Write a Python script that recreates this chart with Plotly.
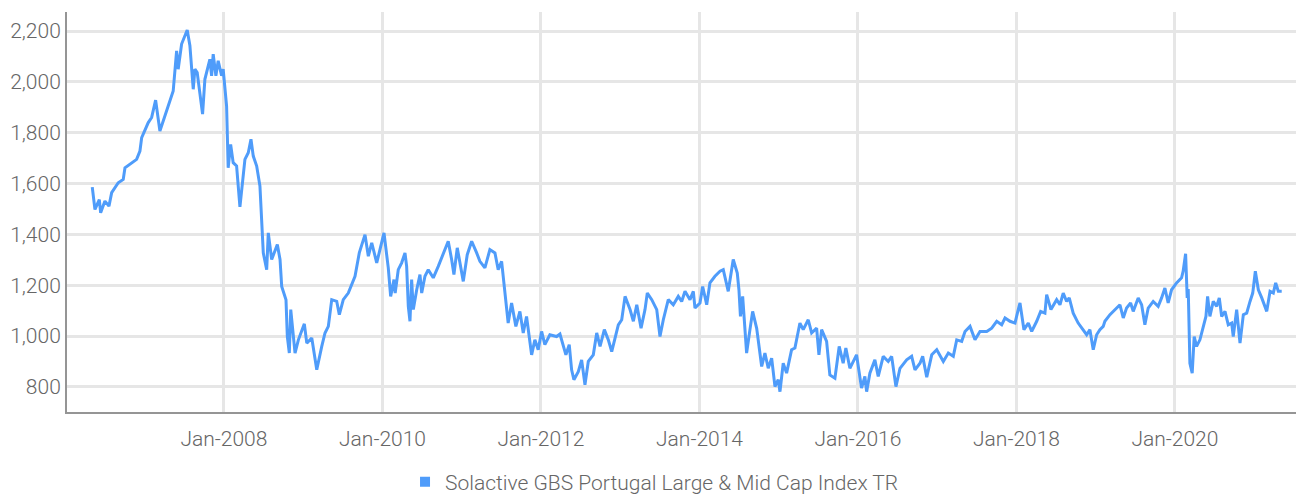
import datetime as dt
import plotly.graph_objects as go

# Decimal-year dates and index levels
years = [
    2006.338, 2006.372, 2006.427, 2006.444, 2006.498, 2006.549, 2006.583, 2006.666, 2006.729, 2006.751,
    2006.898, 2006.940, 2006.962, 2007.045, 2007.088, 2007.138, 2007.192, 2007.256, 2007.319, 2007.360,
    2007.403, 2007.423, 2007.466, 2007.537, 2007.571, 2007.613, 2007.634, 2007.663, 2007.731, 2007.760,
    2007.823, 2007.845, 2007.865, 2007.899, 2007.928, 2007.971, 2007.991, 2008.034, 2008.054, 2008.085,
    2008.117, 2008.160, 2008.202, 2008.236, 2008.265, 2008.307, 2008.341, 2008.370, 2008.413, 2008.454,
    2008.496, 2008.539, 2008.559, 2008.602, 2008.673, 2008.707, 2008.728, 2008.782, 2008.799, 2008.824,
    2008.842, 2008.896, 2008.938, 2009.013, 2009.044, 2009.107, 2009.170, 2009.233, 2009.274, 2009.316,
    2009.359, 2009.422, 2009.455, 2009.505, 2009.568, 2009.653, 2009.707, 2009.779, 2009.821, 2009.864,
    2009.927, 2009.968, 2010.019, 2010.073, 2010.103, 2010.145, 2010.160, 2010.199, 2010.242, 2010.284,
    2010.305, 2010.326, 2010.347, 2010.368, 2010.389, 2010.432, 2010.473, 2010.495, 2010.536, 2010.578,
    2010.641, 2010.704, 2010.767, 2010.830, 2010.873, 2010.902, 2010.944, 2010.978, 2011.020, 2011.070,
    2011.126, 2011.189, 2011.230, 2011.293, 2011.356, 2011.420, 2011.461, 2011.504, 2011.546, 2011.587,
    2011.630, 2011.684, 2011.735, 2011.777, 2011.819, 2011.883, 2011.924, 2011.966, 2012.009, 2012.050,
    2012.113, 2012.198, 2012.240, 2012.281, 2012.315, 2012.357, 2012.387, 2012.416, 2012.471, 2012.513,
    2012.555, 2012.597, 2012.660, 2012.703, 2012.745, 2012.799, 2012.849, 2012.892, 2012.934, 2012.975,
    2013.018, 2013.060, 2013.123, 2013.165, 2013.208, 2013.262, 2013.312, 2013.341, 2013.397, 2013.460,
    2013.501, 2013.543, 2013.606, 2013.669, 2013.732, 2013.775, 2013.817, 2013.880, 2013.922, 2013.943,
    2014.006, 2014.040, 2014.091, 2014.132, 2014.195, 2014.259, 2014.300, 2014.363, 2014.426, 2014.477,
    2014.498, 2014.517, 2014.545, 2014.595, 2014.637, 2014.671, 2014.722, 2014.785, 2014.826, 2014.868,
    2014.911, 2014.953, 2014.994, 2015.016, 2015.057, 2015.100, 2015.163, 2015.205, 2015.268, 2015.310,
    2015.373, 2015.416, 2015.479, 2015.508, 2015.542, 2015.605, 2015.646, 2015.710, 2015.764, 2015.814,
    2015.848, 2015.899, 2015.983, 2016.046, 2016.088, 2016.110, 2016.151, 2016.214, 2016.256, 2016.319,
    2016.382, 2016.425, 2016.479, 2016.530, 2016.614, 2016.677, 2016.719, 2016.782, 2016.816, 2016.867,
    2016.930, 2016.993, 2017.076, 2017.139, 2017.202, 2017.245, 2017.308, 2017.350, 2017.413, 2017.476,
    2017.539, 2017.624, 2017.687, 2017.750, 2017.813, 2017.855, 2017.918, 2017.981, 2018.022, 2018.044,
    2018.094, 2018.149, 2018.192, 2018.255, 2018.305, 2018.359, 2018.381, 2018.435, 2018.507, 2018.549,
    2018.590, 2018.633, 2018.666, 2018.716, 2018.779, 2018.843, 2018.886, 2018.927, 2018.969, 2019.012,
    2019.053, 2019.095, 2019.116, 2019.180, 2019.243, 2019.306, 2019.348, 2019.390, 2019.441, 2019.474,
    2019.537, 2019.580, 2019.621, 2019.663, 2019.726, 2019.789, 2019.832, 2019.874, 2019.915, 2019.958,
    2020.021, 2020.084, 2020.104, 2020.135, 2020.155, 2020.168, 2020.189, 2020.218, 2020.243, 2020.273,
    2020.315, 2020.357, 2020.391, 2020.412, 2020.441, 2020.483, 2020.526, 2020.559, 2020.589, 2020.631,
    2020.672, 2020.715, 2020.735, 2020.778, 2020.820, 2020.862, 2020.904, 2020.946, 2020.980, 2021.013,
    2021.051, 2021.094, 2021.157, 2021.199, 2021.240, 2021.270, 2021.303, 2021.346,
]

index_values = [
    1586, 1498, 1537, 1485, 1531, 1511, 1564, 1603, 1616, 1662,
    1695, 1728, 1781, 1840, 1860, 1928, 1807, 1866, 1932, 1964,
    2122, 2050, 2149, 2204, 2142, 1971, 2050, 2037, 1873, 2010,
    2089, 2024, 2109, 2024, 2083, 2024, 2050, 1905, 1662, 1754,
    1682, 1669, 1508, 1616, 1695, 1721, 1774, 1708, 1669, 1590,
    1327, 1261, 1406, 1301, 1360, 1301, 1195, 1143, 998, 933,
    1104, 933, 985, 1048, 972, 992, 867, 959, 1012, 1038,
    1143, 1136, 1084, 1143, 1169, 1235, 1327, 1399, 1314, 1367,
    1288, 1340, 1406, 1268, 1156, 1222, 1169, 1261, 1288, 1327,
    1274, 1117, 1058, 1222, 1104, 1182, 1242, 1169, 1235, 1261,
    1229, 1274, 1327, 1373, 1301, 1242, 1347, 1281, 1215, 1320,
    1373, 1327, 1294, 1268, 1340, 1327, 1261, 1294, 1169, 1051,
    1130, 1038, 1097, 1012, 1077, 926, 985, 946, 1018, 966,
    1005, 998, 1008, 959, 926, 966, 867, 828, 860, 906,
    808, 900, 926, 1012, 959, 1025, 985, 939, 998, 1044,
    1064, 1156, 1104, 1058, 1123, 1031, 1104, 1169, 1143, 1104,
    998, 1064, 1143, 1123, 1156, 1136, 1176, 1143, 1176, 1110,
    1130, 1195, 1123, 1209, 1235, 1255, 1261, 1176, 1301, 1248,
    1182, 1077, 1156, 933, 1025, 1097, 1030, 880, 933, 873,
    913, 801, 828, 781, 893, 854, 946, 953, 1051, 1025,
    1064, 1012, 1031, 926, 1025, 979, 847, 834, 959, 893,
    953, 873, 926, 795, 841, 781, 854, 906, 841, 920,
    900, 920, 801, 873, 906, 920, 867, 893, 920, 838,
    926, 946, 900, 933, 920, 985, 979, 1018, 1038, 985,
    1018, 1018, 1031, 1058, 1044, 1071, 1058, 1051, 1104, 1130,
    1025, 1051, 1018, 1058, 1097, 1090, 1163, 1104, 1143, 1123,
    1169, 1136, 1150, 1090, 1051, 1025, 1005, 1025, 946, 1005,
    1025, 1038, 1058, 1084, 1104, 1123, 1071, 1110, 1130, 1097,
    1150, 1123, 1044, 1110, 1136, 1117, 1150, 1189, 1130, 1182,
    1209, 1229, 1255, 1324, 1150, 1185, 893, 854, 998, 959,
    985, 1038, 1077, 1156, 1077, 1136, 1117, 1150, 1077, 1097,
    1044, 1051, 998, 1104, 972, 1084, 1090, 1136, 1169, 1255,
    1182, 1150, 1097, 1176, 1169, 1209, 1176, 1176,
]

series_name = "Solactive GBS Portugal Large & Mid Cap Index TR"
x_tick_values = ["2008-01-01", "2010-01-01", "2012-01-01", "2014-01-01",
                 "2016-01-01", "2018-01-01", "2020-01-01"]
x_tick_labels = ["Jan-2008", "Jan-2010", "Jan-2012", "Jan-2014",
                 "Jan-2016", "Jan-2018", "Jan-2020"]
y_tick_values = [800, 1000, 1200, 1400, 1600, 1800, 2000, 2200]


def to_date(t):
    y = int(t)
    start = dt.datetime(y, 1, 1)
    length = (dt.datetime(y + 1, 1, 1) - start).days
    return start + dt.timedelta(days=(t - y) * length)


dates = [to_date(t) for t in years]

LINE_COLOR = "#4F9CFA"
TEXT_COLOR = "#666666"
FONT = "Roboto, 'Open Sans', sans-serif"

fig = go.Figure()
fig.add_trace(go.Scatter(
    x=dates, y=index_values, mode="lines",
    line=dict(color=LINE_COLOR, width=3),
    showlegend=False, name=series_name,
))
# legend entry with square marker
fig.add_trace(go.Scatter(
    x=[None], y=[None], mode="markers",
    marker=dict(symbol="square", size=10, color=LINE_COLOR),
    name=series_name, showlegend=True,
))

# the page adds an 8px body margin, so the figure is sized to fit inside it
fig.update_layout(
    width=1296, height=488,
    margin=dict(l=59, r=4, t=4, b=84, autoexpand=False),
    paper_bgcolor="white", plot_bgcolor="white",
    font=dict(family=FONT, size=21, color=TEXT_COLOR, weight=300),
    legend=dict(orientation="h", x=0.4765, xanchor="center", y=-0.175, yanchor="middle",
                font=dict(family=FONT, size=21, color=TEXT_COLOR, weight=300),
                itemwidth=30, bgcolor="rgba(0,0,0,0)"),
    xaxis=dict(
        type="date",
        range=[to_date(2006.019), to_date(2021.577)],
        tickvals=x_tick_values, ticktext=x_tick_labels,
        showgrid=True, gridcolor="#e6e6e6", gridwidth=3,
        showline=True, linecolor="#959595", linewidth=2,
        ticks="", ticklabelstandoff=7, zeroline=False, automargin=False,
    ),
    yaxis=dict(
        range=[701, 2275],
        tickvals=y_tick_values, tickformat=",",
        showgrid=True, gridcolor="#e6e6e6", gridwidth=3,
        showline=True, linecolor="#959595", linewidth=2,
        ticks="", ticklabelstandoff=0, zeroline=False, automargin=False,
    ),
)

fig.write_html("out.html")
